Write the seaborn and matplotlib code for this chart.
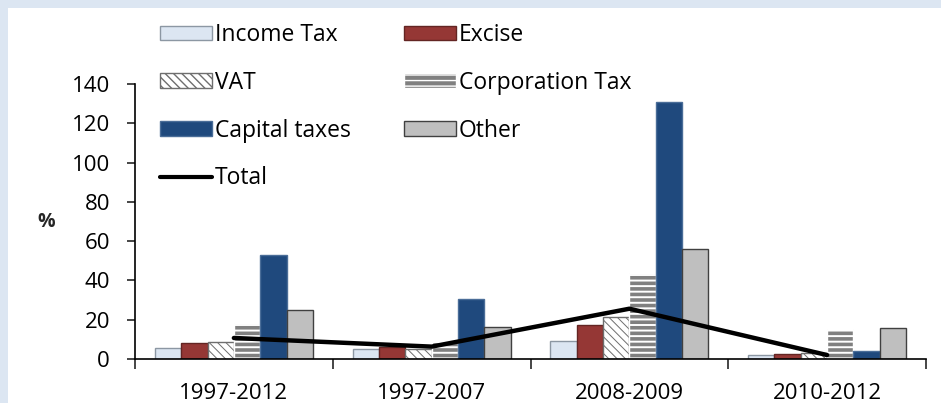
import numpy as np
import pandas as pd
import matplotlib
matplotlib.use("Agg")
import matplotlib.pyplot as plt
import matplotlib.patches as mpatches
from matplotlib.lines import Line2D
import seaborn as sns

# data (% change)
periods = ["1997-2012", "1997-2007", "2008-2009", "2010-2012"]
income_tax = [5.6, 4.9, 9.2, 2.0]
excise = [8.0, 6.0, 17.3, 2.5]
vat = [8.6, 5.3, 21.5, 3.2]
corporation_tax = [18.1, 8.5, 43.6, 15.1]
capital_taxes = [52.8, 30.4, 131.0, 3.9]
other = [25.0, 16.4, 56.1, 15.6]
total = [10.7, 6.3, 25.6, 2.0]

series_names = ["Income Tax", "Excise", "VAT", "Corporation Tax", "Capital taxes", "Other"]
series_vals = [income_tax, excise, vat, corporation_tax, capital_taxes, other]

# styling per series: face, edge, hatch, hatch linewidth
styles = {
    "Income Tax": dict(fc="#DCE6F2", ec="#8C97A3", hatch=None, hlw=0),
    "Excise": dict(fc="#953735", ec="#632523", hatch=None, hlw=0),
    "VAT": dict(fc="white", ec="#6E6E6E", hatch="\\\\\\\\", hlw=0.7),
    "Corporation Tax": dict(fc="#808080", ec="white", hatch="---", hlw=1.4),
    "Capital taxes": dict(fc="#1F497D", ec="#4A6D98", hatch=None, hlw=0),
    "Other": dict(fc="#BFBFBF", ec="#404040", hatch=None, hlw=0),
}

rows = []
for name, vals in zip(series_names, series_vals):
    for p, v in zip(periods, vals):
        rows.append({"period": p, "tax": name, "value": v})
df = pd.DataFrame(rows)

sns.set_style("white")
plt.rcParams["font.family"] = ["Open Sans", "DejaVu Sans"]

fig = plt.figure(figsize=(9.41, 4.03), dpi=100)
fig.patch.set_facecolor("#DCE6F2")
# white panel inside the light blue border
panel = mpatches.Rectangle((8 / 941, 0), 1, 1 - 8 / 403, transform=fig.transFigure,
                           facecolor="white", edgecolor="none", zorder=-10)
fig.patches.append(panel)

ax = fig.add_axes([135 / 941, 1 - 359 / 403, (926 - 135) / 941, (359 - 84) / 403])
ax.set_facecolor("none")

palette = {n: styles[n]["fc"] for n in series_names}
sns.barplot(data=df, x="period", y="value", hue="tax", hue_order=series_names, order=periods,
            palette=palette, width=0.8, saturation=1, legend=False, ax=ax)

for container, name in zip(ax.containers, series_names):
    st = styles[name]
    for bar in container:
        bar.set_facecolor(st["fc"])
        bar.set_edgecolor(st["ec"])
        bar.set_linewidth(1.0)
        if st["hatch"]:
            bar.set_hatch(st["hatch"])
            if hasattr(bar, "set_hatch_linewidth"):
                bar.set_hatch_linewidth(st["hlw"])

sns.lineplot(x=periods, y=total, color="black", linewidth=3.2, sort=False, ax=ax, zorder=5)

ax.set_ylim(0, 140)
ax.set_xlim(-0.5, len(periods) - 0.5)
ax.set_yticks(np.arange(0, 141, 20))
ax.set_xlabel("")
ax.set_ylabel("%", rotation=0, fontsize=14, fontweight="bold", va="center", ha="center")
ax.yaxis.set_label_coords(-0.112, 0.497)

sns.despine(ax=ax)
for s in ["left", "bottom"]:
    ax.spines[s].set_color("black")
    ax.spines[s].set_linewidth(1.2)

ax.tick_params(axis="y", direction="out", length=6, width=1.2, labelsize=16, pad=12, left=True,
               labelcolor="black")
ax.set_xticks(range(len(periods)))
ax.set_xticklabels(periods)
ax.tick_params(axis="x", which="major", length=0, labelsize=16, pad=17, labelcolor="black")
ax.set_xticks(np.arange(-0.5, len(periods), 1.0), minor=True)
ax.tick_params(axis="x", which="minor", direction="out", length=7, width=1.2, bottom=True)

# legend, two columns, over the top-left of the plot
def patch_for(name):
    st = styles[name]
    return mpatches.Patch(facecolor=st["fc"], edgecolor=st["ec"], hatch=st["hatch"], label=name)

handles = [patch_for("Income Tax"), patch_for("VAT"), patch_for("Capital taxes"),
           Line2D([], [], color="black", linewidth=3, label="Total"),
           patch_for("Excise"), patch_for("Corporation Tax"), patch_for("Other")]
leg = fig.legend(handles=handles, ncol=2, loc="upper left", bbox_to_anchor=(160 / 941, 1 - 23 / 403),
                 frameon=False, fontsize=16.5, handlelength=2.27, handleheight=0.62,
                 handletextpad=0.13, labelspacing=1.04, columnspacing=2.3, borderaxespad=0,
                 borderpad=0)
for t in leg.get_texts():
    t.set_color("black")

fig.savefig("out.png", dpi=100, facecolor=fig.get_facecolor())
